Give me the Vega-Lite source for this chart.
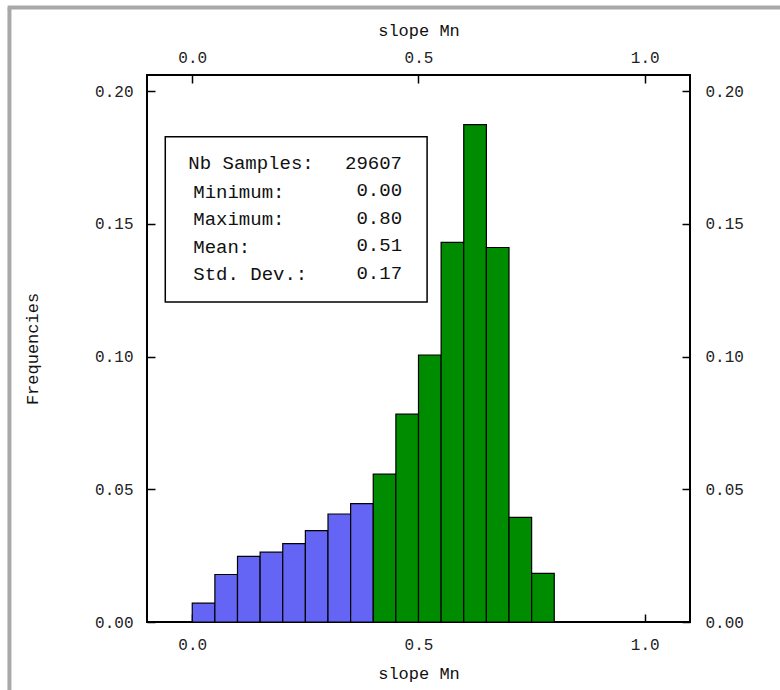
{
  "$schema": "https://vega.github.io/schema/vega-lite/v6.json",
  "autosize": "none",
  "padding": {"left": 147, "top": 75, "right": 90, "bottom": 68},
  "width": 543,
  "height": 547,
  "background": "white",
  "config": {
    "view": {"stroke": "black", "strokeWidth": 2},
    "font": "Liberation Mono",
    "axis": {
      "domain": false,
      "grid": false,
      "tickColor": "black",
      "tickWidth": 1.5,
      "tickSize": -8,
      "labelFont": "Liberation Mono",
      "labelFontSize": 16,
      "labelColor": "#222",
      "titleFont": "Liberation Mono",
      "titleFontSize": 17,
      "titleFontWeight": "normal",
      "titleColor": "#111"
    }
  },
  "data": {
    "values": [
      {"bin_start": 0.00, "bin_end": 0.05, "freq": 0.0071, "group": "low"},
      {"bin_start": 0.05, "bin_end": 0.10, "freq": 0.0179, "group": "low"},
      {"bin_start": 0.10, "bin_end": 0.15, "freq": 0.0247, "group": "low"},
      {"bin_start": 0.15, "bin_end": 0.20, "freq": 0.0263, "group": "low"},
      {"bin_start": 0.20, "bin_end": 0.25, "freq": 0.0295, "group": "low"},
      {"bin_start": 0.25, "bin_end": 0.30, "freq": 0.0344, "group": "low"},
      {"bin_start": 0.30, "bin_end": 0.35, "freq": 0.0407, "group": "low"},
      {"bin_start": 0.35, "bin_end": 0.40, "freq": 0.0446, "group": "low"},
      {"bin_start": 0.40, "bin_end": 0.45, "freq": 0.0557, "group": "high"},
      {"bin_start": 0.45, "bin_end": 0.50, "freq": 0.0783, "group": "high"},
      {"bin_start": 0.50, "bin_end": 0.55, "freq": 0.1006, "group": "high"},
      {"bin_start": 0.55, "bin_end": 0.60, "freq": 0.1430, "group": "high"},
      {"bin_start": 0.60, "bin_end": 0.65, "freq": 0.1874, "group": "high"},
      {"bin_start": 0.65, "bin_end": 0.70, "freq": 0.1411, "group": "high"},
      {"bin_start": 0.70, "bin_end": 0.75, "freq": 0.0394, "group": "high"},
      {"bin_start": 0.75, "bin_end": 0.80, "freq": 0.0183, "group": "high"}
    ]
  },
  "layer": [
    {
      "mark": {"type": "rect", "stroke": "black", "strokeWidth": 1.2, "opacity": 1},
      "encoding": {
        "x": {
          "field": "bin_start", "type": "quantitative",
          "scale": {"domain": [-0.1, 1.1], "nice": false, "zero": false},
          "axis": {"orient": "bottom", "values": [0, 0.5, 1.0], "format": ".1f", "title": "slope Mn", "labelPadding": 22, "titlePadding": 13}
        },
        "x2": {"field": "bin_end"},
        "y": {
          "field": "freq", "type": "quantitative",
          "scale": {"domain": [0, 0.2061], "nice": false, "zero": false},
          "axis": {"orient": "left", "values": [0, 0.05, 0.1, 0.15, 0.2], "format": ".2f", "title": "Frequencies", "labelPadding": 22, "titlePadding": 53}
        },
        "y2": {"datum": 0},
        "color": {
          "field": "group", "type": "nominal",
          "scale": {"domain": ["low", "high"], "range": ["#6464f5", "#008c00"]},
          "legend": null
        }
      }
    },
    {
      "mark": {"type": "point", "opacity": 0},
      "encoding": {
        "x": {
          "field": "bin_start", "type": "quantitative",
          "scale": {"domain": [-0.1, 1.1], "nice": false, "zero": false},
          "axis": {"orient": "top", "values": [0, 0.5, 1.0], "format": ".1f", "title": "slope Mn", "labelPadding": 18, "titlePadding": 10}
        },
        "y": {
          "field": "freq", "type": "quantitative",
          "scale": {"domain": [0, 0.2061], "nice": false, "zero": false},
          "axis": {"orient": "right", "values": [0, 0.05, 0.1, 0.15, 0.2], "format": ".2f", "title": null, "labelPadding": 23}
        }
      }
    },
    {
      "data": {"values": [{}]},
      "mark": {"type": "rect", "fill": "white", "stroke": "black", "strokeWidth": 1.5},
      "encoding": {
        "x": {"datum": -0.0596, "type": "quantitative", "scale": {"domain": [-0.1, 1.1], "nice": false, "zero": false}, "axis": null},
        "x2": {"datum": 0.519},
        "y": {"datum": 0.1828, "type": "quantitative", "scale": {"domain": [0, 0.2061], "nice": false, "zero": false}, "axis": null},
        "y2": {"datum": 0.1206}
      }
    },
    {
      "data": {"values": [{}]},
      "mark": {"type": "text", "align": "left", "baseline": "alphabetic", "fontSize": 19, "font": "Liberation Mono", "color": "#111", "text": "Nb Samples:"},
      "encoding": {
        "x": {"datum": -0.0088, "type": "quantitative", "scale": {"domain": [-0.1, 1.1], "nice": false, "zero": false}, "axis": null},
        "y": {"datum": 0.1708, "type": "quantitative", "scale": {"domain": [0, 0.2061], "nice": false, "zero": false}, "axis": null}
      }
    },
    {
      "data": {"values": [{}]},
      "mark": {"type": "text", "align": "left", "baseline": "alphabetic", "fontSize": 19, "lineHeight": 27.5, "font": "Liberation Mono", "color": "#111", "text": ["Minimum:", "Maximum:", "Mean:", "Std. Dev.:"]},
      "encoding": {
        "x": {"datum": 0.0022, "type": "quantitative", "scale": {"domain": [-0.1, 1.1], "nice": false, "zero": false}, "axis": null},
        "y": {"datum": 0.1598, "type": "quantitative", "scale": {"domain": [0, 0.2061], "nice": false, "zero": false}, "axis": null}
      }
    },
    {
      "data": {"values": [{}]},
      "mark": {"type": "text", "align": "right", "baseline": "alphabetic", "fontSize": 19, "lineHeight": 27.5, "font": "Liberation Mono", "color": "#111", "text": ["29607", "0.00", "0.80", "0.51", "0.17"]},
      "encoding": {
        "x": {"datum": 0.4636, "type": "quantitative", "scale": {"domain": [-0.1, 1.1], "nice": false, "zero": false}, "axis": null},
        "y": {"datum": 0.1708, "type": "quantitative", "scale": {"domain": [0, 0.2061], "nice": false, "zero": false}, "axis": null}
      }
    },
    {
      "data": {"values": [{}]},
      "mark": {"type": "rule", "color": "#a8a8a8", "strokeWidth": 4, "clip": false},
      "encoding": {
        "x": {"datum": -0.404, "type": "quantitative", "scale": {"domain": [-0.1, 1.1], "nice": false, "zero": false}, "axis": null},
        "y": {"datum": 0.2315, "type": "quantitative", "scale": {"domain": [0, 0.2061], "nice": false, "zero": false}, "axis": null},
        "y2": {"datum": -0.03}
      }
    },
    {
      "data": {"values": [{}]},
      "mark": {"type": "rule", "color": "#a8a8a8", "strokeWidth": 4, "clip": false},
      "encoding": {
        "y": {"datum": 0.2315, "type": "quantitative", "scale": {"domain": [0, 0.2061], "nice": false, "zero": false}, "axis": null},
        "x": {"datum": -0.408, "type": "quantitative", "scale": {"domain": [-0.1, 1.1], "nice": false, "zero": false}, "axis": null},
        "x2": {"datum": 1.32}
      }
    }
  ]
}
